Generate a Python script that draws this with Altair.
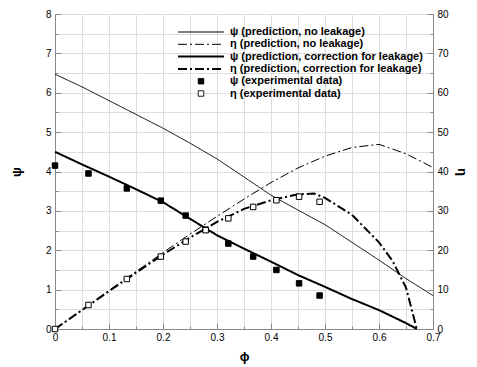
import altair as alt
import pandas as pd

SERIES = [
    "ψ (prediction, no leakage)",
    "η (prediction, no leakage)",
    "ψ (prediction, correction for leakage)",
    "η (prediction, correction for leakage)",
    "ψ (experimental data)",
    "η (experimental data)",
]

# psi prediction, no leakage
phi_psi_nl = [0, 0.05, 0.1, 0.15, 0.2, 0.25, 0.3, 0.35, 0.4, 0.45, 0.5, 0.55, 0.6, 0.65, 0.7]
psi_nl = [6.47, 6.15, 5.80, 5.45, 5.10, 4.72, 4.32, 3.86, 3.40, 3.02, 2.65, 2.20, 1.75, 1.28, 0.85]

# psi prediction, correction for leakage
phi_psi_lk = [0, 0.05, 0.1, 0.15, 0.2, 0.25, 0.3, 0.35, 0.4, 0.45, 0.5, 0.55, 0.6, 0.65, 0.67]
psi_lk = [4.50, 4.18, 3.87, 3.55, 3.22, 2.80, 2.38, 2.04, 1.71, 1.37, 1.07, 0.76, 0.48, 0.15, 0.0]

# eta prediction, no leakage
phi_eta_nl = [0, 0.05, 0.1, 0.15, 0.2, 0.25, 0.3, 0.35, 0.4, 0.45, 0.5, 0.55, 0.6, 0.65, 0.7]
eta_nl = [0, 4.9, 9.8, 14.6, 19.4, 24.1, 28.6, 33.0, 37.2, 40.9, 43.9, 46.1, 46.9, 44.5, 41.0]

# eta prediction, correction for leakage
phi_eta_lk = [0, 0.05, 0.1, 0.15, 0.2, 0.25, 0.3, 0.35, 0.4, 0.45, 0.48, 0.5, 0.55, 0.6, 0.625, 0.65, 0.67]
eta_lk = [0, 4.8, 9.6, 14.3, 18.9, 23.2, 27.2, 30.5, 32.7, 34.2, 34.4, 33.3, 29.0, 22.0, 17.3, 10.5, 0.0]

# experimental data
phi_exp = [0, 0.062, 0.133, 0.196, 0.242, 0.279, 0.321, 0.367, 0.41, 0.452, 0.49]
psi_exp = [4.15, 3.95, 3.57, 3.26, 2.88, 2.52, 2.17, 1.84, 1.50, 1.16, 0.85]
eta_exp = [0.0, 6.1, 12.7, 18.4, 22.2, 25.1, 28.1, 31.0, 32.7, 33.6, 32.3]

x_ticks = [round(i * 0.05, 2) for i in range(15)]
psi_ticks = [i * 0.5 for i in range(17)]
eta_ticks = [i * 5 for i in range(17)]


def frame(phi, vals, name):
    return pd.DataFrame({"phi": phi, "v": vals, "series": name})


psi_lines = pd.concat([frame(phi_psi_nl, psi_nl, SERIES[0]), frame(phi_psi_lk, psi_lk, SERIES[2])])
eta_lines = pd.concat([frame(phi_eta_nl, eta_nl, SERIES[1]), frame(phi_eta_lk, eta_lk, SERIES[3])])
psi_pts = frame(phi_exp, psi_exp, SERIES[4])
eta_pts = frame(phi_exp, eta_exp, SERIES[5])

FONT = "Liberation Sans"

legend = alt.Legend(
    title=None,
    orient="none",
    legendX=122,
    legendY=12,
    clipHeight=12,
    rowPadding=0.3,
    labelFont=FONT,
    labelFontSize=11,
    labelFontWeight="bold",
    labelColor="black",
    labelOffset=5,
    labelLimit=300,
)

stroke = alt.Stroke("series:N", scale=alt.Scale(domain=SERIES, range=["black"] * 6), legend=legend)
dash = alt.StrokeDash(
    "series:N",
    scale=alt.Scale(domain=SERIES, range=[[1, 0], [9, 3, 2, 3], [1, 0], [9, 3, 2, 3], [1, 0], [1, 0]]),
    legend=legend,
)
swidth = alt.StrokeWidth(
    "series:N",
    scale=alt.Scale(type="ordinal", domain=SERIES, range=[1, 1, 2, 2, 1, 1]),
    legend=legend,
)
shape = alt.Shape(
    "series:N",
    scale=alt.Scale(domain=SERIES, range=["stroke"] * 4 + ["square", "square"]),
    legend=legend,
)
fill = alt.Fill(
    "series:N",
    scale=alt.Scale(domain=SERIES, range=["transparent"] * 4 + ["black", "white"]),
    legend=legend,
)
size = alt.Size(
    "series:N",
    scale=alt.Scale(type="ordinal", domain=SERIES, range=[2116] * 4 + [30, 30]),
    legend=legend,
)

x_enc = alt.X(
    "phi:Q",
    scale=alt.Scale(domain=[0, 0.7], nice=False, zero=False),
    axis=alt.Axis(
        title="ϕ",
        values=x_ticks,
        format="~g",
        labelExpr="round(datum.value*100) % 10 == 0 ? datum.label : ''",
        tickSize={"condition": {"test": "round(datum.value*100) % 10 == 0", "value": -6}, "value": -3},
        labelOverlap=False,
        labelFlush=False,
        labelPadding=9,
        titlePadding=5,
        titleFontSize=13,
    ),
)

psi_y = alt.Y(
    "v:Q",
    scale=alt.Scale(domain=[0, 8], nice=False),
    axis=alt.Axis(
        title="ψ",
        orient="left",
        values=psi_ticks,
        format="~g",
        labelExpr="datum.value % 1 == 0 ? datum.label : ''",
        tickSize={"condition": {"test": "datum.value % 1 == 0", "value": -6}, "value": -3},
        labelOverlap=False,
        labelPadding=10,
        titlePadding=22,
        titleFontSize=13,
    ),
)

eta_y = alt.Y(
    "v:Q",
    scale=alt.Scale(domain=[0, 80], nice=False),
    axis=alt.Axis(
        title="η",
        orient="right",
        values=eta_ticks,
        format="~g",
        labelExpr="datum.value % 10 == 0 ? datum.label : ''",
        tickSize={"condition": {"test": "datum.value % 10 == 0", "value": -6}, "value": -3},
        labelOverlap=False,
        labelPadding=10,
        titlePadding=6,
        titleFontSize=13,
    ),
)

psi_line = alt.Chart(psi_lines).mark_line().encode(
    x=x_enc, y=psi_y, stroke=stroke, strokeDash=dash, strokeWidth=swidth, detail="series:N"
)
psi_pt = alt.Chart(psi_pts).mark_point(opacity=1, strokeWidth=1).encode(
    x=x_enc, y=psi_y, stroke=stroke, fill=fill, shape=shape, size=size
)
eta_line = alt.Chart(eta_lines).mark_line().encode(
    x=x_enc, y=eta_y, stroke=stroke, strokeDash=dash, strokeWidth=swidth, detail="series:N"
)
eta_pt = alt.Chart(eta_pts).mark_point(opacity=1, strokeWidth=1).encode(
    x=x_enc, y=eta_y, stroke=stroke, fill=fill, shape=shape, size=size
)

chart = (
    alt.layer(alt.layer(psi_line, psi_pt), alt.layer(eta_line, eta_pt))
    .resolve_scale(y="independent")
    .properties(
        width=378,
        height=315,
        autosize=alt.AutoSizeParams(type="none"),
        padding={"left": 55, "top": 14, "right": 44, "bottom": 38},
    )
    .configure_view(stroke="black", strokeWidth=1)
    .configure_axis(
        grid=False,
        domainColor="black",
        tickColor="black",
        labelColor="black",
        titleColor="black",
        labelFont=FONT,
        titleFont=FONT,
        labelFontSize=10,
        labelFontWeight="bold",
        titleFontWeight="normal",
    )
    .configure(background="white")
)

chart.save("out.html", embed_options={"renderer": "svg", "actions": False})
